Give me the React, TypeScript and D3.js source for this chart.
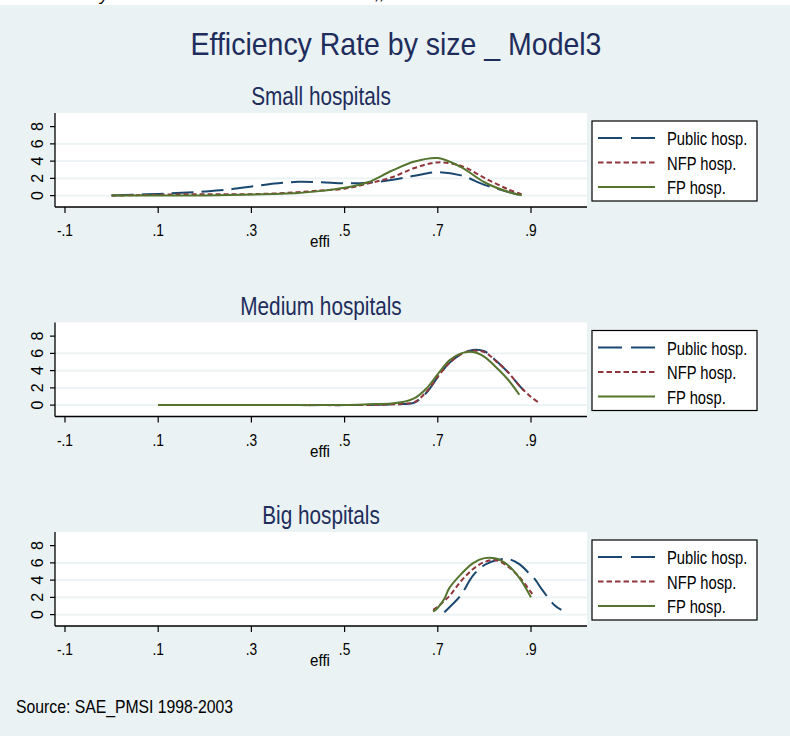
import React from "react";
import * as d3 from "d3";

// ---------- DATA ----------
const xTicks = [-0.1, 0.1, 0.3, 0.5, 0.7, 0.9];
const xTickLabels = ["-.1", ".1", ".3", ".5", ".7", ".9"];
const yTicks = [0, 2, 4, 6, 8];
const yTickLabels = ["0", "2", "4", "6", "8"];
const gridTicks = [0, 2, 4, 6];
const seriesNames = ["Public hosp.", "NFP hosp.", "FP hosp."];
const panelTitles = ["Small hospitals", "Medium hospitals", "Big hospitals"];

const smallGrid = [0, 0.05, 0.1, 0.15, 0.2, 0.25, 0.3, 0.35, 0.4, 0.45, 0.5, 0.55, 0.6, 0.65, 0.7, 0.75, 0.8, 0.85, 0.88];
const smallPublic = [0, 0.1, 0.2, 0.32, 0.48, 0.7, 1.05, 1.4, 1.6, 1.55, 1.42, 1.5, 1.8, 2.3, 2.72, 2.35, 1.25, 0.45, 0];
const smallNFP = [0, 0.05, 0.1, 0.15, 0.15, 0.15, 0.17, 0.25, 0.4, 0.6, 0.8, 1.4, 2.1, 3.2, 3.85, 3.45, 2.05, 0.75, 0.15];
const smallFP = [0, 0, 0, 0.01, 0.02, 0.06, 0.12, 0.2, 0.3, 0.55, 0.9, 1.55, 2.85, 3.95, 4.35, 3.3, 1.55, 0.45, 0.05];

const mediumGrid = [0.1, 0.15, 0.2, 0.25, 0.3, 0.35, 0.4, 0.45, 0.5, 0.55, 0.6, 0.625, 0.65, 0.675, 0.7, 0.725, 0.75, 0.775, 0.8, 0.825, 0.85, 0.875, 0.885, 0.9, 0.915];
const mediumPublic = [0, 0, 0, 0, 0, 0, 0, 0, 0, 0.02, 0.07, 0.12, 0.28, 1.4, 3.25, 4.9, 5.9, 6.4, 6.25, 5.15, 3.85, 2.25, 1.65, null, null];
const mediumNFP = [0, 0, 0, 0, 0, 0, 0, 0, 0, 0.02, 0.08, 0.15, 0.35, 1.5, 3.3, 4.9, 5.9, 6.3, 6.15, 5.1, 3.85, 2.25, 1.7, 0.95, 0.35];
const mediumFP = [0, 0, 0, 0, 0, 0, 0, 0, 0.02, 0.1, 0.2, 0.35, 0.8, 1.9, 3.6, 5.2, 6.0, 6.15, 5.6, 4.4, 3.0, 1.2, null, null, null];

const bigGrid = [0.69, 0.7, 0.714, 0.725, 0.75, 0.775, 0.8, 0.825, 0.85, 0.875, 0.9, 0.907, 0.925, 0.95, 0.965];
const bigPublic = [null, null, 0.27, 0.85, 2.3, 4.5, 5.75, 6.3, 6.46, 5.85, 4.55, 4.2, 2.8, 1.12, 0.54];
const bigNFP = [0.55, 0.9, 1.6, 2.15, 3.9, 5.25, 6.1, 6.3, 5.6, 4.35, 2.6, 2.1, null, null, null];
const bigFP = [0.35, 0.8, 1.85, 3.1, 4.7, 5.95, 6.55, 6.5, 5.75, 4.25, 2.0, null, null, null, null];

const panels = [
  { grid: smallGrid, series: [smallPublic, smallNFP, smallFP] },
  { grid: mediumGrid, series: [mediumPublic, mediumNFP, mediumFP] },
  { grid: bigGrid, series: [bigPublic, bigNFP, bigFP] },
];

// ---------- STYLE ----------
const BG = "#eaf2f3";
const NAVY_TEXT = "#1e2d5c";
const colors = ["#1a476f", "#90353b", "#55752f"];
const dashes = ["22 8", "5 3", null];
const legendDashes = ["24 9", "5.5 3", null];
const FONT = "'Liberation Sans', Arial, Helvetica, sans-serif";

const W = 790;
const H = 736;
const plotLeft = 55;
const plotRight = 587;
const plotH = 94;
const panelTops = [113, 322.5, 532];

function T({ x, y, size, anchor = "start", sx = 1, fill = "#000", rotate = 0, children, style }: any) {
  return (
    <text
      transform={`translate(${x},${y}) scale(${sx},1)${rotate ? ` rotate(${rotate})` : ""}`}
      fontSize={size}
      textAnchor={anchor}
      fill={fill}
      fontFamily={FONT}
      style={style}
    >
      {children}
    </text>
  );
}

function Panel({ idx }: { idx: number }) {
  const top = panelTops[idx];
  const bottom = top + plotH;
  const x = d3.scaleLinear().domain([-0.1, 0.9]).range([65, 531]);
  const y = d3.scaleLinear().domain([-1.32, 9.58]).range([bottom, top]);
  const p = panels[idx];
  const lineGen = d3
    .line<[number, number | null]>()
    .defined((d) => d[1] !== null)
    .x((d) => x(d[0]))
    .y((d) => y(d[1] as number))
    .curve(d3.curveCatmullRom.alpha(0.5));

  const legTop = top + 8;
  const legLeft = 592;
  const legRight = 757;
  const legBottom = top + 88;
  const rowOff = [17, 41.5, 66];

  return (
    <g>
      <T x={321} y={top - 8} size={25} anchor="middle" sx={0.83} fill={NAVY_TEXT}>
        {panelTitles[idx]}
      </T>
      <rect x={plotLeft} y={top} width={plotRight - plotLeft} height={plotH} fill="#fff" />
      {gridTicks.map((t) => (
        <line key={t} x1={plotLeft} x2={plotRight} y1={y(t)} y2={y(t)} stroke={BG} strokeWidth={1.6} />
      ))}
      {p.series.map((s, i) => (
        <path
          key={i}
          d={lineGen(p.grid.map((g, j) => [g, s[j]]) as any) || ""}
          fill="none"
          stroke={colors[i]}
          strokeWidth={2}
          strokeDasharray={dashes[i] || undefined}
        />
      ))}
      {/* axes */}
      <line x1={plotLeft} x2={plotLeft} y1={top} y2={bottom} stroke="#000" strokeWidth={1.3} />
      <line x1={plotLeft} x2={plotRight} y1={bottom} y2={bottom} stroke="#000" strokeWidth={1.3} />
      {yTicks.map((t, i) => (
        <g key={t}>
          <line x1={plotLeft - 5} x2={plotLeft} y1={y(t)} y2={y(t)} stroke="#000" strokeWidth={1.2} />
          <T x={43} y={y(t)} size={16} anchor="middle" rotate={-90}>
            {yTickLabels[i]}
          </T>
        </g>
      ))}
      {xTicks.map((t, i) => (
        <g key={t}>
          <line x1={x(t)} x2={x(t)} y1={bottom} y2={bottom + 6} stroke="#000" strokeWidth={1.2} />
          <T x={x(t)} y={bottom + 29} size={16} anchor="middle" sx={0.86}>
            {xTickLabels[i]}
          </T>
        </g>
      ))}
      <T x={320} y={bottom + 40} size={16} anchor="middle" sx={0.95}>
        effi
      </T>
      {/* legend */}
      <rect x={legLeft} y={legTop} width={legRight - legLeft} height={legBottom - legTop} fill="#fff" stroke="#000" strokeWidth={1.2} />
      {seriesNames.map((n, i) => (
        <g key={n}>
          <line
            x1={598}
            x2={655}
            y1={legTop + rowOff[i]}
            y2={legTop + rowOff[i]}
            stroke={colors[i]}
            strokeWidth={2}
            strokeDasharray={legendDashes[i] || undefined}
          />
          <T x={667} y={legTop + rowOff[i] + 7} size={18} sx={0.82}>
            {n}
          </T>
        </g>
      ))}
    </g>
  );
}

export default function App() {
  return (
    <svg width={W} height={H} style={{ position: "absolute", left: 0, top: 0, display: "block" }}>
      <rect x={0} y={0} width={W} height={H} fill="#fff" />
      <T x={100} y={0} size={18} style={{ fontStyle: "italic" }}>
        y
      </T>
      <T x={375} y={-1} size={18} style={{ fontStyle: "italic" }}>
        ,,
      </T>
      <rect x={0} y={5} width={W} height={H - 5} fill={BG} />
      <T x={396} y={55} size={32} anchor="middle" sx={0.89} fill={NAVY_TEXT}>
        Efficiency Rate by size _ Model3
      </T>
      {[0, 1, 2].map((i) => (
        <Panel key={i} idx={i} />
      ))}
      <T x={16} y={713} size={19} sx={0.83}>
        Source: SAE_PMSI 1998-2003
      </T>
    </svg>
  );
}
